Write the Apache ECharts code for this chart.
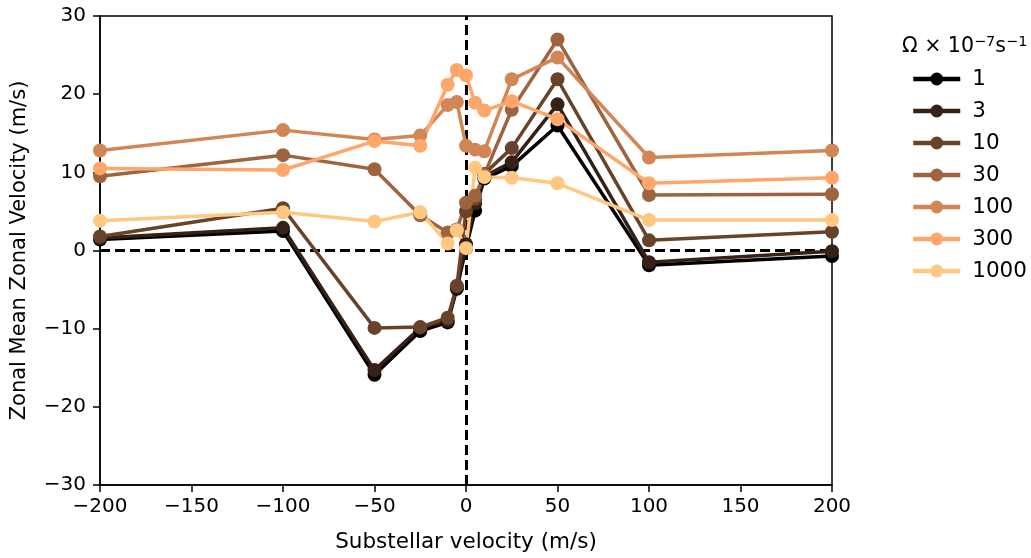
<!DOCTYPE html>
<html><head><meta charset="utf-8">
<script src="https://cdn.jsdelivr.net/npm/echarts@6/dist/echarts.min.js"></script>
<style>html,body{margin:0;padding:0;background:#fff}#c{width:1031px;height:558px}</style>
</head><body><div id="c"></div>
<script>
const velocities = [-200, -100, -50, -25, -10, -5, 0, 5, 10, 25, 50, 100, 200];
const omegaLabels = ['1', '3', '10', '30', '100', '300', '1000'];
const w1    = [1.4, 2.5, -15.9, -10.3, -9.2, -4.9, 0.3, 5.1, 9.2, 10.8, 16.0, -1.9, -0.7];
const w3    = [1.6, 2.9, -15.3, -9.9, -9.0, -4.7, 0.8, 6.0, 9.5, 11.3, 18.7, -1.5, -0.1];
const w10   = [1.8, 5.4, -9.9, -9.8, -8.6, -4.5, 5.0, 6.6, 9.8, 13.1, 21.9, 1.3, 2.4];
const w30   = [9.5, 12.2, 10.4, 4.5, 2.3, 2.7, 6.1, 7.0, 9.7, 18.0, 27.0, 7.1, 7.2];
const w100  = [12.8, 15.4, 14.2, 14.7, 18.6, 19.0, 13.4, 12.9, 12.7, 21.9, 24.7, 11.9, 12.8];
const w300  = [10.5, 10.3, 14.0, 13.4, 21.2, 23.1, 22.4, 18.9, 17.9, 19.1, 16.8, 8.6, 9.3];
const w1000 = [3.8, 4.9, 3.7, 4.9, 0.9, 2.6, 0.3, 10.6, 9.4, 9.3, 8.6, 3.9, 3.9];
const allSeries = [w1, w3, w10, w30, w100, w300, w1000];
const colors = ['#000000', '#352115', '#69422a', '#9e643f', '#d28555', '#ffa66a', '#ffc77f'];

const FONT = 'DejaVu Sans';
const minus = v => String(v).replace('-', '\u2212');

const series = allSeries.map((vals, i) => {
  const s = {
    name: omegaLabels[i],
    type: 'line',
    data: vals.map((v, j) => [velocities[j], v]),
    symbol: 'circle',
    symbolSize: 14,
    showSymbol: true,
    lineStyle: { width: 3.5, color: colors[i] },
    itemStyle: { color: colors[i] },
    emphasis: { disabled: true },
    z: 3
  };
  if (i === 0) {
    s.markLine = {
      silent: true,
      symbol: 'none',
      label: { show: false },
      lineStyle: { color: '#000', type: [10, 5], width: 3 },
      data: [{ yAxis: 0 }, { xAxis: 0 }],
      z: 1
    };
  }
  return s;
});

const chart = echarts.init(document.getElementById('c'), null, { renderer: 'canvas' });
chart.setOption({
  animation: false,
  backgroundColor: '#fff',
  textStyle: { fontFamily: FONT },
  grid: { left: 100, right: 199, top: 16, bottom: 68, show: true, borderColor: '#000', borderWidth: 1.5, backgroundColor: 'transparent' },
  title: {
    left: 897, top: 30,
    text: '\u03A9 \u00D7 10{s|\u22127}s{s|\u22121}',
    textStyle: {
      fontFamily: FONT, fontSize: 20.5, fontWeight: 'normal', color: '#000',
      rich: { s: { fontFamily: FONT, fontSize: 14.5, verticalAlign: 'top', padding: [0, 0, 8, 0], color: '#000' } }
    }
  },
  legend: {
    orient: 'vertical',
    left: 906, top: 63,
    itemWidth: 47, itemHeight: 16, itemGap: 10,
    lineStyle: { width: 4.5 },
    textStyle: { fontFamily: FONT, fontSize: 21.5, color: '#000', padding: [0, 0, 0, 7] },
    data: omegaLabels
  },
  xAxis: {
    type: 'value', min: -200, max: 200, interval: 50,
    name: 'Substellar velocity (m/s)', nameLocation: 'middle', nameGap: 46,
    nameTextStyle: { fontFamily: FONT, fontSize: 21.5, color: '#000' },
    axisLine: { onZero: false, lineStyle: { color: '#000', width: 1.5 } },
    axisTick: { inside: false, length: 7, lineStyle: { color: '#000', width: 1.5 } },
    axisLabel: { margin: 12, fontFamily: FONT, fontSize: 20, color: '#000', formatter: minus },
    splitLine: { show: false }
  },
  yAxis: {
    type: 'value', min: -30, max: 30, interval: 10,
    name: 'Zonal Mean Zonal Velocity (m/s)', nameLocation: 'middle', nameGap: 70, nameRotate: 90,
    nameTextStyle: { fontFamily: FONT, fontSize: 21, color: '#000' },
    axisLine: { onZero: false, lineStyle: { color: '#000', width: 1.5 } },
    axisTick: { inside: false, length: 7, lineStyle: { color: '#000', width: 1.5 } },
    axisLabel: { margin: 14, fontFamily: FONT, fontSize: 20, color: '#000', formatter: minus },
    splitLine: { show: false }
  },
  series: series
});
</script></body></html>
